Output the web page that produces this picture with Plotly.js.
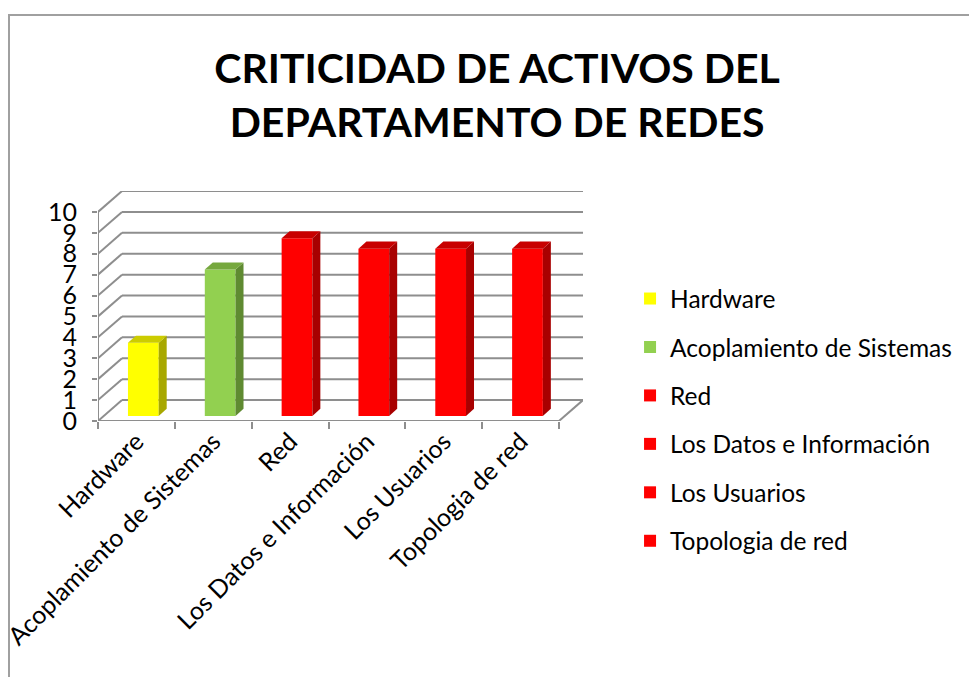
<!DOCTYPE html>
<html>
<head>
<meta charset="utf-8">
<script src="https://cdn.plot.ly/plotly-3.0.1.min.js"></script>
<style>
  html, body { margin:0; padding:0; background:#fff; overflow:hidden; }
  #frame { position:absolute; left:8px; top:14px; width:2000px; height:2000px; border:2px solid #a0a0a0; box-sizing:border-box; }
  #chart { position:absolute; left:0; top:0; width:969px; height:677px; }
</style>
</head>
<body>
<div id="frame"></div>
<div id="chart"></div>
<script>
// ---- data ----
const categories = ["Hardware", "Acoplamiento de Sistemas", "Red", "Los Datos e Información", "Los Usuarios", "Topologia de red"];
const values = [3.5, 7, 8.5, 8, 8, 8];
const frontColors = ["#FFFF00", "#92D050", "#FF0000", "#FF0000", "#FF0000", "#FF0000"];
const sideColors  = ["#A8A800", "#5F8A31", "#A80000", "#A80000", "#A80000", "#A80000"];
const topColors   = ["#CCCC00", "#76A83E", "#C80000", "#C80000", "#C80000", "#C80000"];
const yTicks = [0,1,2,3,4,5,6,7,8,9,10];

// ---- 3D projection style constants ----
const DX = 0.3125, DY = 1.0;          // back wall offset (axis units)
const BAR_W = 0.40, BAR_OFF = -0.11;   // front face of bars
const BAR_BASE = 0.24;                 // bars sit slightly back from front edge
const SIDE_DX = 0.104, SIDE_DY = 0.34; // bar depth
const FONT = "Lato, 'Open Sans', sans-serif";
const GRID = "#8e8e8e";

const n = categories.length;
const xLeft = -0.5, xRight = n - 0.5;

const traces = [];
// front faces (legend entries)
categories.forEach((c, i) => {
  traces.push({
    type: "bar", x: [i], y: [values[i]], base: [BAR_BASE],
    width: [BAR_W], offset: [BAR_OFF],
    name: c, legendgroup: "g" + i,
    marker: { color: frontColors[i], line: { width: 0 } },
    hoverinfo: "name+y"
  });
});
// side and top faces
categories.forEach((c, i) => {
  const x0 = i + BAR_OFF, x1 = x0 + BAR_W;
  const yb = BAR_BASE, yt = BAR_BASE + values[i];
  traces.push({
    type: "scatter", mode: "lines", fill: "toself", fillcolor: sideColors[i],
    x: [x1, x1 + SIDE_DX, x1 + SIDE_DX, x1, x1],
    y: [yb, yb + SIDE_DY, yt + SIDE_DY, yt, yb],
    line: { width: 0, color: sideColors[i] }, showlegend: false, hoverinfo: "skip", legendgroup: "g" + i
  });
  traces.push({
    type: "scatter", mode: "lines", fill: "toself", fillcolor: topColors[i],
    x: [x0, x1, x1 + SIDE_DX, x0 + SIDE_DX, x0],
    y: [yt, yt, yt + SIDE_DY, yt + SIDE_DY, yt],
    line: { width: 0, color: topColors[i] }, showlegend: false, hoverinfo: "skip", legendgroup: "g" + i
  });
});

// gridlines / walls as shapes under the traces
const shapes = [];
const ln = (x0, y0, x1, y1) => shapes.push({
  type: "line", xref: "x", yref: "y", x0, y0, x1, y1, layer: "below",
  line: { color: GRID, width: 2 }
});
yTicks.forEach(t => {
  ln(xLeft + DX, t + DY, xRight + DX, t + DY);   // back wall line
  ln(xLeft, t, xLeft + DX, t + DY);              // side wall diagonal
});
ln(xLeft, 0, xRight, 0);                         // front floor edge
ln(xRight, 0, xRight + DX, DY);                  // right floor edge
ln(xLeft, 0, xLeft, yTicks[yTicks.length - 1]);  // front vertical axis

const layout = {
  width: 969, height: 677,
  margin: { l: 98, r: 386, t: 191, b: 256, pad: 0 },
  paper_bgcolor: "rgba(0,0,0,0)", plot_bgcolor: "rgba(0,0,0,0)",
  title: {
    text: "<b>CRITICIDAD DE ACTIVOS DEL<br>DEPARTAMENTO DE REDES</b>",
    font: { family: FONT, size: 41, color: "#000" },
    xref: "container", x: 0.513, xanchor: "center",
    yref: "container", y: 0.877, yanchor: "top"
  },
  barmode: "overlay",
  showlegend: true,
  legend: {
    x: 1.097, xanchor: "left", y: 0.63, yanchor: "top",
    font: { family: FONT, size: 24.5, color: "#000" },
    tracegroupgap: 13.6, itemclick: false, bgcolor: "rgba(0,0,0,0)",
    maxheight: 420
  },
  xaxis: {
    range: [xLeft, xRight + DX], fixedrange: true,
    tickmode: "array", tickvals: categories.map((c, i) => i), ticktext: categories,
    tickangle: -45, ticks: "", showgrid: false, zeroline: false, showline: false,
    tickfont: { family: FONT, size: 25, color: "#000" },
    minor: { tickmode: "linear", tick0: -0.5, dtick: 1, ticks: "outside", ticklen: 7, tickcolor: GRID, tickwidth: 2, showgrid: false }
  },
  yaxis: {
    range: [0, yTicks[yTicks.length - 1] + DY], fixedrange: true,
    tickmode: "array", tickvals: yTicks, ticktext: yTicks.map(String),
    ticks: "outside", ticklen: 5, tickcolor: GRID, tickwidth: 2,
    ticklabelstandoff: 10,
    showgrid: false, zeroline: false, showline: false,
    tickfont: { family: FONT, size: 25, color: "#000" }
  },
  shapes: shapes
};

Plotly.newPlot("chart", traces, layout, { displayModeBar: false, staticPlot: true });
</script>
</body>
</html>
